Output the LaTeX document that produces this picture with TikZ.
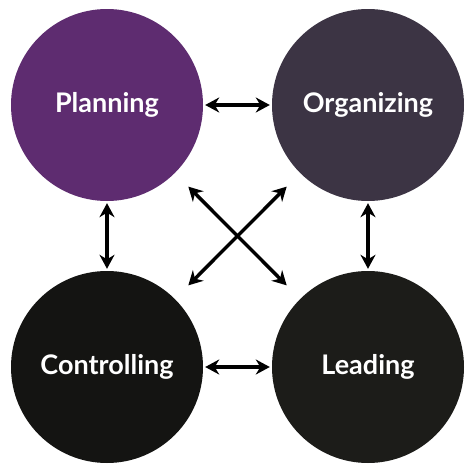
\documentclass[tikz,border=0pt]{standalone}
\usepackage{fontspec}
\setmainfont{Lato}
\usepackage{tikz}
\usetikzlibrary{arrows.meta}
\definecolor{planpurple}{HTML}{5E2C70}
\definecolor{orgplum}{HTML}{3C3444}
\definecolor{ctrlblack}{HTML}{141412}
\definecolor{leadblack}{HTML}{1C1C19}
\tikzset{stage/.style={circle,draw=none,minimum size=192pt,inner sep=0pt,
    text=white,font=\bfseries\fontsize{27}{30}\selectfont},
    link/.style={line width=3.4pt,{Stealth[length=14pt,width=15pt]}-{Stealth[length=14pt,width=15pt]}},
    across/.style={link,shorten <=19pt,shorten >=19pt}}

\begin{document}
\begin{tikzpicture}[x=1pt,y=-1pt]
\useasboundingbox (0,0) rectangle (474,474);
\node[stage,fill=planpurple] (plan) at (107,105) {Planning};
\node[stage,fill=orgplum] (org) at (368,105) {Organizing};
\node[stage,fill=ctrlblack] (ctrl) at (107,367) {Controlling};
\node[stage,fill=leadblack] (lead) at (368,367) {Leading};
\draw[link,shorten <=2pt,shorten >=2pt] (plan) -- (org);
\draw[link,shorten <=2pt,shorten >=2pt] (plan) -- (ctrl);
\draw[link,shorten <=2pt,shorten >=2pt] (org) -- (lead);
\draw[link,shorten <=2pt,shorten >=2pt] (ctrl) -- (lead);
\draw[across] (plan) -- (lead);
\draw[across] (org) -- (ctrl);
\end{tikzpicture}
\end{document}
